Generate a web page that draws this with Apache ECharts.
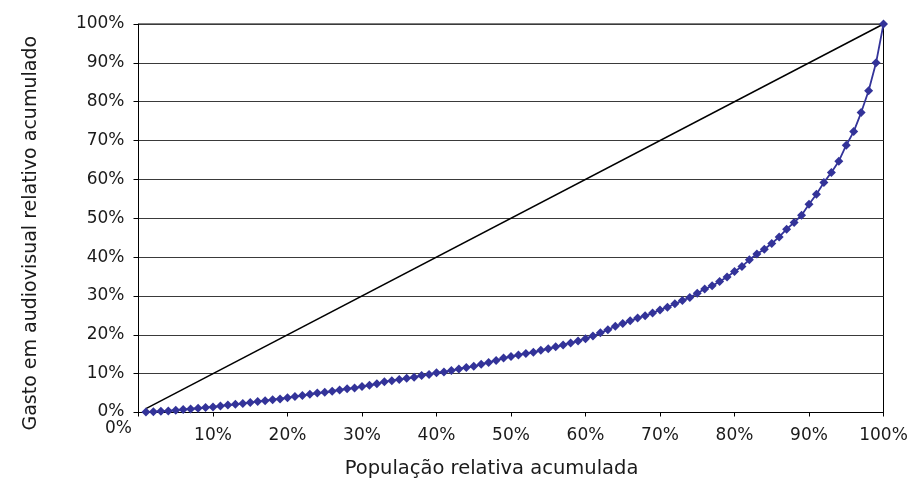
<!DOCTYPE html>
<html>
<head>
<meta charset="utf-8">
<script src="https://cdn.jsdelivr.net/npm/echarts@6/dist/echarts.min.js"></script>
<style>
html,body{margin:0;padding:0;background:#fff;}
#chart{width:917px;height:479px;}
</style>
</head>
<body>
<div id="chart"></div>
<script>
// População relativa acumulada (%)
const pop = [1,2,3,4,5,6,7,8,9,10,11,12,13,14,15,16,17,18,19,20,
  21,22,23,24,25,26,27,28,29,30,31,32,33,34,35,36,37,38,39,40,
  41,42,43,44,45,46,47,48,49,50,51,52,53,54,55,56,57,58,59,60,
  61,62,63,64,65,66,67,68,69,70,71,72,73,74,75,76,77,78,79,80,
  81,82,83,84,85,86,87,88,89,90,91,92,93,94,95,96,97,98,99,100];
// Gasto em audiovisual relativo acumulado (%)
const gasto = [0.1,0.2,0.3,0.4,0.6,0.8,0.9,1.1,1.3,1.4,
  1.7,1.9,2.1,2.3,2.6,2.8,3.0,3.3,3.5,3.8,
  4.1,4.4,4.7,5.0,5.2,5.5,5.8,6.1,6.3,6.7,
  7.0,7.4,7.9,8.2,8.5,8.8,9.1,9.5,9.8,10.2,
  10.4,10.8,11.2,11.6,11.9,12.4,12.9,13.4,14.0,14.4,
  14.8,15.2,15.5,16.0,16.4,16.9,17.4,17.9,18.4,19.0,
  19.7,20.5,21.3,22.2,22.9,23.6,24.3,24.9,25.6,26.4,
  27.1,28.0,28.8,29.6,30.7,31.8,32.6,33.7,34.9,36.3,
  37.6,39.3,40.8,42.0,43.5,45.2,47.2,48.9,50.8,53.6,
  56.2,59.2,61.8,64.7,68.8,72.3,77.2,82.8,90.0,100.0];
// Linha de igualdade
const equalX = [1,100];
const equalY = [1,100];
const xTicks = ['0%','10%','20%','30%','40%','50%','60%','70%','80%','90%','100%'];
const yTicks = ['0%','10%','20%','30%','40%','50%','60%','70%','80%','90%','100%'];
const xName = 'População relativa acumulada';
const yName = 'Gasto em audiovisual relativo acumulado';

const FONT = 'DejaVu Sans';
const TXT = '#1a1a1a';

const chart = echarts.init(document.getElementById('chart'), null, {renderer:'canvas'});
const option = {
  animation:false,
  backgroundColor:'#fff',
  grid:{left:138.5, right:33.5, top:24, bottom:66.5, outerBoundsMode:'none', containLabel:false,
        show:true, borderColor:'#000', borderWidth:1, backgroundColor:'transparent'},
  xAxis:{
    type:'value', min:0, max:100, interval:10,
    axisLine:{show:true, lineStyle:{color:'#000', width:1}},
    axisTick:{show:true, length:4, lineStyle:{color:'#000'}},
    splitLine:{show:false},
    axisLabel:{formatter:v => v === 0 ? '' : xTicks[Math.round(v/10)], color:TXT, fontFamily:FONT, fontSize:17, margin:15},
    name:xName, nameLocation:'middle', nameGap:46,
    nameTextStyle:{fontFamily:FONT, fontSize:19.5, color:TXT, padding:[0,39,0,0]}
  },
  yAxis:{
    type:'value', min:0, max:100, interval:10,
    axisLine:{show:true, lineStyle:{color:'#000', width:1}},
    axisTick:{show:true, length:5, lineStyle:{color:'#000'}},
    splitLine:{show:true, lineStyle:{color:'#3a3a3a', width:1}},
    axisLabel:{formatter:v => v === 0 ? '' : yTicks[Math.round(v/10)], color:TXT, fontFamily:FONT, fontSize:17, margin:14},
    name:yName, nameLocation:'middle', nameGap:98,
    nameTextStyle:{fontFamily:FONT, fontSize:19, color:TXT, padding:[0,30,0,0]}
  },
  series:[
    {
      type:'line', data:equalX.map((x,i)=>[x,equalY[i]]),
      symbol:'none', lineStyle:{color:'#000', width:1.5}, z:2
    },
    {
      type:'line', data:pop.map((x,i)=>[x,gasto[i]]),
      symbol:'diamond', symbolSize:9,
      itemStyle:{color:'#333399'},
      lineStyle:{color:'#333399', width:1.8}, z:3
    }
  ]
};
chart.setOption(option);
const o = chart.convertToPixel({gridIndex:0}, [0,0]);
chart.setOption({
  graphic:[
    {type:'text', x:o[0]-20, y:o[1]+16, style:{text:xTicks[0], fontFamily:FONT, fontSize:17, fill:TXT, textAlign:'center', textVerticalAlign:'middle'}},
    {type:'text', x:o[0]-14, y:o[1]-1, style:{text:yTicks[0], fontFamily:FONT, fontSize:17, fill:TXT, textAlign:'right', textVerticalAlign:'middle'}}
  ]
});
</script>
</body>
</html>
